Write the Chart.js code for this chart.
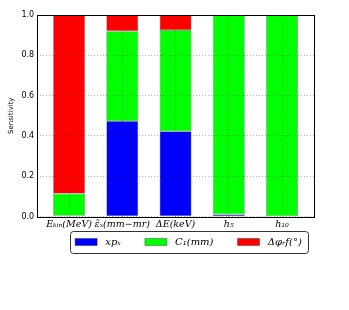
<!DOCTYPE html>
<html>
<head>
<meta charset="utf-8">
<script src="https://cdn.jsdelivr.net/npm/chart.js@4"></script>
<style>
  html, body { margin: 0; padding: 0; background: #fff; }
  #wrap { width: 349px; height: 310px; }
</style>
</head>
<body>
<div id="wrap"><canvas id="chart-1"></canvas></div>
<script>
const ctx1 = document.getElementById('chart-1');

// categories on the x axis
var categories = ['Eₖᵢₙ(MeV)', 'ε̃ₓ(mm−mr)', 'ΔE(keV)', 'h₅', 'h₁₀'];
// stacked sensitivity shares per parameter
var xpx = [0.004, 0.474, 0.423, 0.011, 0.0];
var c1 = [0.110, 0.446, 0.502, 0.989, 1.0];
var dphi = [0.886, 0.080, 0.075, 0.0, 0.0];
var yTicks = [0.0, 0.2, 0.4, 0.6, 0.8, 1.0];

function points(values) {
    return values.map((v, i) => ({x: i, y: v}));
}

// full frame round the plot, like matplotlib
const frame = {
    id: 'frame',
    afterDraw(chart) {
        const a = chart.chartArea, c = chart.ctx;
        c.save();
        c.strokeStyle = '#000';
        c.lineWidth = 1;
        c.strokeRect(Math.round(a.left) + 0.5, Math.round(a.top) + 0.5,
            Math.round(a.right - a.left), Math.round(a.bottom - a.top));
        c.restore();
    }
};

// nudge legend and put a rounded box round it
const legendBox = {
    id: 'legendBox',
    afterLayout(chart) {
        chart.legend.left += 28;
        chart.legend.right += 28;
        chart.legend.top -= 19;
        chart.legend.bottom -= 19;
    },
    afterDraw(chart) {
        const boxes = chart.legend.legendHitBoxes;
        if (!boxes || !boxes.length) return;
        const c = chart.ctx;
        let l = Infinity, r = -Infinity, t = Infinity, b = -Infinity;
        boxes.forEach(h => {
            l = Math.min(l, h.left); r = Math.max(r, h.left + h.width);
            t = Math.min(t, h.top); b = Math.max(b, h.top + h.height);
        });
        l -= 5; r += 6; t -= 6; b += 6;
        c.save();
        c.strokeStyle = '#000';
        c.lineWidth = 0.8;
        c.beginPath();
        c.roundRect(Math.round(l) + 0.5, Math.round(t) + 0.5, Math.round(r - l), Math.round(b - t), 3);
        c.stroke();
        c.restore();
    }
};

new Chart(ctx1, {
    type: 'bar',
    data: {
        datasets: [
            {label: ' xpₓ', data: points(xpx), backgroundColor: '#0000ff'},
            {label: ' C₁(mm)', data: points(c1), backgroundColor: '#00ff00'},
            {label: ' Δφᵣf(°)', data: points(dphi), backgroundColor: '#ff0000'}
        ]
    },
    options: {
        responsive: true,
        maintainAspectRatio: false,
        animation: false,
        datasets: {
            bar: {
                borderWidth: 0.6,
                borderColor: 'rgba(0,0,0,0.55)',
                borderSkipped: false,
                categoryPercentage: 1.0,
                barPercentage: 0.6
            }
        },
        layout: {padding: {left: 7, right: 35, top: 15, bottom: 34}},
        scales: {
            x: {
                type: 'linear',
                stacked: true,
                offset: false,
                min: -0.6,
                max: 4.6,
                afterBuildTicks: axis => {
                    axis.ticks = categories.map((_, i) => ({value: i}));
                },
                ticks: {
                    callback: v => categories[v],
                    font: {family: 'DejaVu Serif', style: 'italic', size: 9.5},
                    color: '#000',
                    padding: 2,
                    maxRotation: 0,
                    autoSkip: false
                },
                grid: {color: 'rgba(0,0,0,0.3)', drawTicks: false, offset: false, z: 1},
                border: {display: false, dash: [1, 2]}
            },
            y: {
                stacked: true,
                min: 0,
                max: 1,
                afterBuildTicks: axis => {
                    axis.ticks = yTicks.map(v => ({value: v}));
                },
                ticks: {
                    callback: v => v.toFixed(1),
                    font: {family: 'DejaVu Sans', size: 8},
                    color: '#000',
                    padding: 3
                },
                title: {
                    display: true,
                    text: 'Sensitivity',
                    font: {family: 'DejaVu Sans', size: 7},
                    color: '#000',
                    padding: {top: 0, bottom: 3}
                },
                grid: {color: 'rgba(0,0,0,0.3)', drawTicks: false, z: 1},
                border: {display: false, dash: [1, 2]}
            }
        },
        plugins: {
            legend: {
                position: 'bottom',
                labels: {
                    boxWidth: 22,
                    boxHeight: 7,
                    padding: 24,
                    color: '#000',
                    font: {family: 'DejaVu Serif', style: 'italic', size: 10}
                }
            },
            tooltip: {enabled: false}
        }
    },
    plugins: [frame, legendBox]
});
</script>
</body>
</html>
